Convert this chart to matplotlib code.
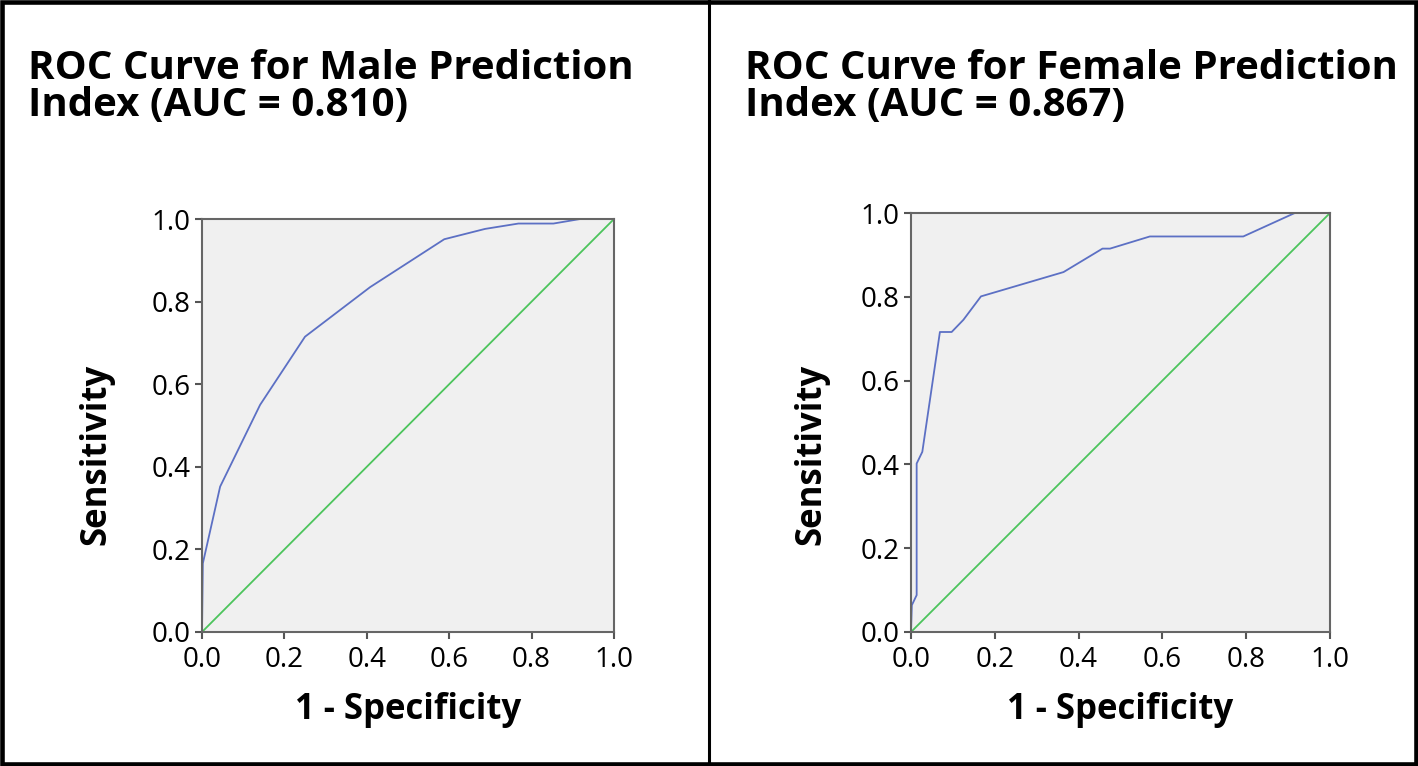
import numpy as np
import matplotlib
matplotlib.use('Agg')
import matplotlib.pyplot as plt
from matplotlib.patches import Rectangle
from matplotlib.lines import Line2D

#-------------------------------------------------------------------------------
#DATA
male_fpr = [0.0, 0.002, 0.044, 0.141, 0.250, 0.408, 0.588, 0.687, 0.768, 0.853, 0.918, 1.0]
male_tpr = [0.0, 0.166, 0.352, 0.550, 0.715, 0.835, 0.951, 0.976, 0.989, 0.989, 1.0, 1.0]

female_fpr = [0.0, 0.002, 0.0135, 0.0135, 0.027, 0.069, 0.097, 0.125, 0.167,
              0.364, 0.457, 0.475, 0.570, 0.793, 0.916, 1.0]
female_tpr = [0.0, 0.064, 0.088, 0.402, 0.430, 0.716, 0.716, 0.745, 0.801,
              0.859, 0.915, 0.915, 0.944, 0.944, 1.0, 1.0]

titles = ['ROC Curve for Male Prediction\nIndex (AUC = 0.810)',
          'ROC Curve for Female Prediction\nIndex (AUC = 0.867)']
ticks = [0.0, 0.2, 0.4, 0.6, 0.8, 1.0]
tick_labels = ['0.0', '0.2', '0.4', '0.6', '0.8', '1.0']
#-------------------------------------------------------------------------------

W, H = 1418, 766
fig = plt.figure(figsize=(W/100.0, H/100.0), dpi=100)
plt.rcParams['font.family'] = ['Open Sans', 'DejaVu Sans']

#axes boxes in pixels: left, top, right, bottom
boxes = [(202, 219, 614, 632), (911, 213, 1330, 632)]
title_x = [28, 745]
ylab_x = [96, 811]
curves = [(male_fpr, male_tpr), (female_fpr, female_tpr)]

for i in range(2):
    l, t, r, b = boxes[i]
    ax = fig.add_axes([l/W, 1-b/H, (r-l)/W, (b-t)/H])
    ax.set_facecolor('#f0f0f0')
    fpr, tpr = curves[i]
    ax.plot([0, 1], [0, 1], color='#4cc45c', lw=1.3)
    ax.plot(fpr, tpr, color='#5c70c4', lw=1.3)
    ax.set_xlim(0, 1)
    ax.set_ylim(0, 1)
    ax.set_xticks(ticks)
    ax.set_xticklabels(tick_labels)
    ax.set_yticks(ticks)
    ax.set_yticklabels(tick_labels)
    ax.tick_params(direction='out', length=5, width=1.5, color='#555555',
                   labelsize=20)
    ax.tick_params(axis='x', pad=5)
    ax.tick_params(axis='y', pad=3)
    for sp in ax.spines.values():
        sp.set_color('#666666')
        sp.set_linewidth(1.5)
    ax.set_xlabel('1 - Specificity', fontsize=25, fontweight='bold', labelpad=13)
    #y label placed in figure coords (sits a bit below the axes centre)
    fig.text(ylab_x[i]/W, 1-454/H, 'Sensitivity', rotation=90,
             fontsize=25, fontweight='bold', ha='center', va='center')
    fig.text(title_x[i]/W, 1-49/H, titles[i], fontsize=29, fontweight='bold',
             ha='left', va='top', linespacing=0.92)

#outer frame and divider
fig.add_artist(Rectangle((2.0/W, 2.0/H), 1-4.0/W, 1-4.0/H, fill=False,
                         edgecolor='black', lw=3.3, transform=fig.transFigure))
fig.add_artist(Line2D([709/W, 709/W], [0, 1], color='black', lw=2.2,
                      transform=fig.transFigure))

fig.savefig('out.png', dpi=100, facecolor='white')
